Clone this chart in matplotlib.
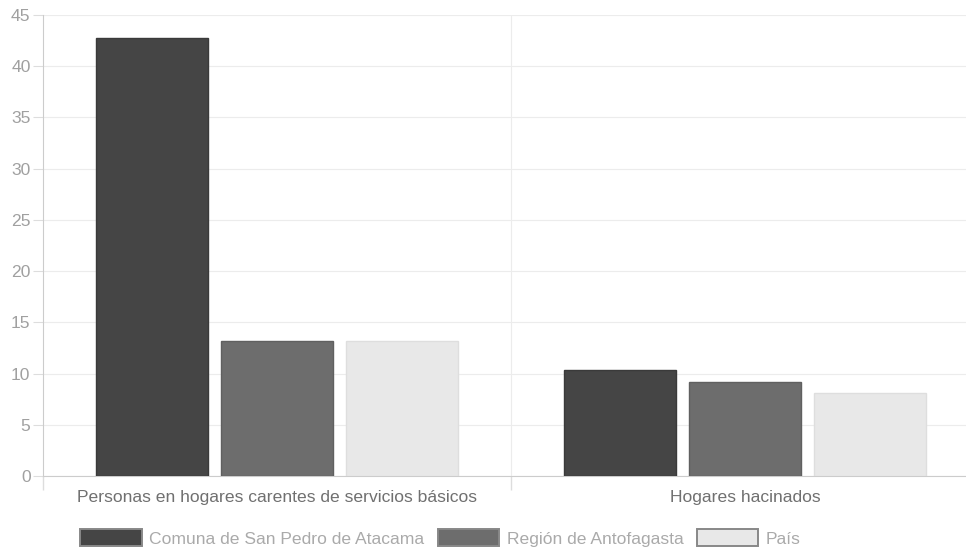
import numpy as np
import matplotlib.pyplot as plt
from matplotlib.patches import Patch

plt.rcParams['font.family'] = ['Liberation Sans', 'DejaVu Sans']

# datos
categorias = ["Personas en hogares carentes de servicios básicos", "Hogares hacinados"]
series = ["Comuna de San Pedro de Atacama", "Región de Antofagasta", "País"]
valores = [
    [42.8, 10.3],   # Comuna
    [13.2, 9.2],    # Región
    [13.2, 8.1],    # País
]
colores = ['#454545', '#6d6d6d', '#e8e8e8']
bordes = ['#3a3a3a', '#606060', '#dedede']

fig = plt.figure(figsize=(9.66, 5.5), dpi=100)
# el eje sigue un poco mas alla del borde derecho (recortado en el original)
ax = fig.add_axes([43/966, 1 - 476/550, 936/966, 461/550])

x = np.arange(len(categorias))
ancho_cat = 0.8 / len(series)
for i, s in enumerate(series):
    off = (i - 1) * ancho_cat
    ax.bar(x + off, valores[i], width=ancho_cat * 0.9, color=colores[i],
           edgecolor=bordes[i], linewidth=1, zorder=3, label=s)

ax.set_xlim(-0.5, len(categorias) - 0.5)
ax.set_ylim(0, 45)
ax.set_yticks(np.arange(0, 46, 5))
ax.grid(axis='y', color='#ececec', linewidth=0.8, zorder=0)

# lineas verticales entre categorias
ax.set_xticks(x)
ax.set_xticklabels(categorias)
ax.set_xticks([-0.5, 0.5], minor=True)
ax.tick_params(axis='x', which='major', length=0, pad=10, labelsize=12.6, labelcolor='#707070')
ax.tick_params(axis='x', which='minor', length=10, color='#dddddd', width=1)
ax.tick_params(axis='y', length=7, color='#dddddd', labelsize=12.6, labelcolor='#a0a0a0', pad=2)
ax.axvline(0.5, color='#ececec', linewidth=0.8, zorder=0)

for side in ['top', 'right']:
    ax.spines[side].set_visible(False)
ax.spines['left'].set_color('#cccccc')
ax.spines['bottom'].set_color('#cccccc')

handles = [Patch(facecolor=colores[i], edgecolor='#888888', linewidth=1.4) for i in range(3)]
leg = fig.legend(handles, series, loc='center', bbox_to_anchor=(0.456, 1 - 538/550),
                 ncol=3, frameon=False, handlelength=3.5, handleheight=1.1,
                 handletextpad=0.45, columnspacing=0.75, fontsize=12.6)
for t in leg.get_texts():
    t.set_color('#aaaaaa')

fig.savefig('out.png', dpi=100)
